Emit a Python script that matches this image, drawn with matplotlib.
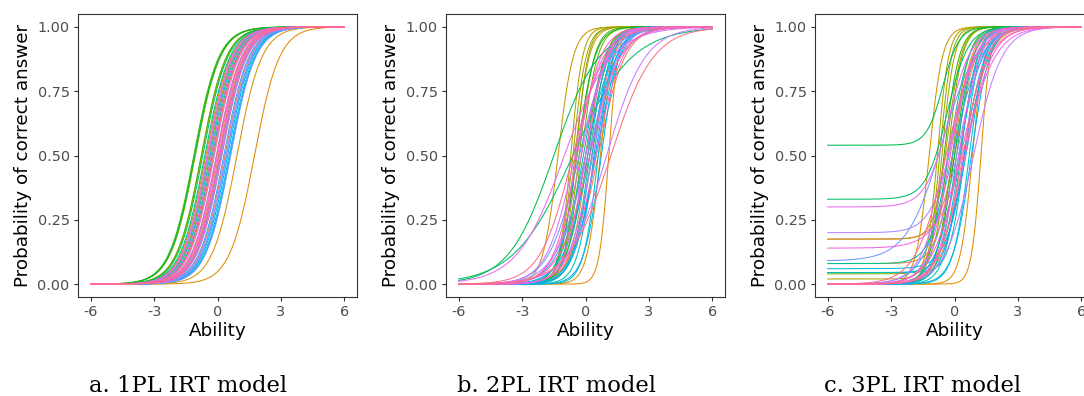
import numpy as np
import matplotlib
matplotlib.use("Agg")
import matplotlib.pyplot as plt

# item parameters (40 items, coloured by item index)
b_1pl = [0.15, 0.35, 0.05, 1.75, 0.92, -0.30, -0.55, -0.20, -0.75, -0.40,
         -1.05, -0.77, -1.12, -1.08, -0.70, -0.45, -0.60, -0.25, -0.05, 0.10,
         -0.35, 0.20, 0.42, 0.55, 0.60, 0.48, 0.30, 0.62, 0.15, 0.40,
         0.10, -0.45, -0.30, -0.15, 0.00, -0.50, 0.20, -0.05, 0.10, -0.20]
a_1pl = 1.7

b_2pl = [0.30, 0.60, 0.10, 1.10, 0.70, -1.30, -0.50, -0.70, -0.60, -0.45,
         -0.20, -0.30, 0.00, -0.40, -1.50, -0.60, 0.10, 0.20, -0.10, 0.40,
         0.60, 0.30, 0.50, 0.75, 0.20, 0.45, 0.00, -0.30, 0.10, 0.35,
         1.00, -0.50, -1.00, -0.20, 0.00, 0.50, -0.40, 0.20, -0.60, 1.20]
a_2pl = [2.0, 1.6, 2.4, 4.5, 3.2, 2.8, 3.0, 3.6, 3.2, 3.5,
         2.6, 2.8, 2.2, 2.4, 0.94, 0.72, 2.0, 2.4, 1.9, 2.6,
         2.9, 2.2, 1.8, 2.4, 1.6, 2.0, 1.5, 1.4, 1.3, 1.7,
         1.1, 1.5, 0.9, 1.6, 2.0, 1.6, 1.8, 1.4, 1.3, 1.0]

b_3pl = [0.20, 0.50, 0.00, 1.25, 0.85, -1.20, -0.30, -0.80, -0.60, -0.70,
         -0.30, -0.10, -0.50, 0.00, -0.55, -0.35, 0.10, -0.20, 0.30, 0.50,
         0.30, 0.70, 0.60, 0.80, 0.20, 0.45, -0.10, -0.60, 0.10, 0.00,
         0.90, -0.30, -0.25, 0.60, 0.20, 0.50, -0.20, 0.30, -0.40, 0.40]
a_3pl = [2.2, 1.8, 2.4, 4.5, 3.5, 3.2, 3.0, 3.8, 3.4, 3.6,
         3.0, 2.6, 2.8, 2.3, 2.6, 2.0, 2.5, 2.2, 2.6, 2.8,
         2.4, 2.6, 2.0, 2.3, 1.8, 2.0, 1.5, 1.2, 1.6, 1.8,
         1.5, 1.6, 1.8, 1.4, 2.0, 1.6, 1.9, 1.5, 1.4, 1.8]
c_3pl = [0.175, 0.00, 0.08, 0.00, 0.00, 0.00, 0.175, 0.02, 0.00, 0.00,
         0.04, 0.00, 0.00, 0.00, 0.54, 0.33, 0.00, 0.08, 0.00, 0.045,
         0.045, 0.00, 0.06, 0.00, 0.00, 0.00, 0.00, 0.09, 0.00, 0.20,
         0.00, 0.00, 0.30, 0.14, 0.00, 0.00, 0.00, 0.00, 0.00, 0.00]

captions = ["a. 1PL IRT model", "b. 2PL IRT model", "c. 3PL IRT model"]
caption_x = [188, 556, 923]


def hue_pal(n, l=65, c=100):
    # ggplot2 default discrete palette (polar Luv -> sRGB)
    h = np.deg2rad(np.linspace(15, 375, n + 1)[:n])
    u, v = c * np.cos(h), c * np.sin(h)
    Xn, Yn, Zn = 95.047, 100.0, 108.883
    un = 4 * Xn / (Xn + 15 * Yn + 3 * Zn)
    vn = 9 * Yn / (Xn + 15 * Yn + 3 * Zn)
    Y = np.full(n, Yn * ((l + 16) / 116) ** 3)
    up = u / (13 * l) + un
    vp = v / (13 * l) + vn
    X = 9 * Y * up / (4 * vp)
    Z = Y * (12 - 3 * up - 20 * vp) / (4 * vp)
    xyz = np.vstack([X, Y, Z]) / 100
    m = np.array([[3.2404542, -1.5371385, -0.4985314],
                  [-0.9692660, 1.8760108, 0.0415560],
                  [0.0556434, -0.2040259, 1.0572252]])
    rgb = m @ xyz
    rgb = np.where(rgb > 0.0031308, 1.055 * np.clip(rgb, 0, None) ** (1 / 2.4) - 0.055, 12.92 * rgb)
    return np.clip(rgb.T, 0, 1)


theta = np.linspace(-6, 6, 400)
n = len(b_1pl)
cols = hue_pal(n)

curves = [
    [1 / (1 + np.exp(-a_1pl * (theta - b_1pl[i]))) for i in range(n)],
    [1 / (1 + np.exp(-a_2pl[i] * (theta - b_2pl[i]))) for i in range(n)],
    [c_3pl[i] + (1 - c_3pl[i]) / (1 + np.exp(-a_3pl[i] * (theta - b_3pl[i]))) for i in range(n)],
]

W, H = 1084, 396
fig = plt.figure(figsize=(W / 100, H / 100), dpi=100)
lefts = [78, 446, 815]

for k in range(3):
    ax = fig.add_axes([lefts[k] / W, (H - 297) / H, 279 / W, 283 / H])
    for i in range(n):
        ax.plot(theta, curves[k][i], color=cols[i], lw=0.75)
    ax.set_xlim(-6.6, 6.6)
    ax.set_ylim(-0.05, 1.05)
    ax.set_xticks([-6, -3, 0, 3, 6])
    ax.set_xticklabels(["-6", "-3", "0", "3", "6"])
    ax.set_yticks([0, 0.25, 0.5, 0.75, 1.0])
    ax.set_yticklabels(["0.00", "0.25", "0.50", "0.75", "1.00"])
    for s in ax.spines.values():
        s.set_color("#333333")
        s.set_linewidth(0.8)
    ax.tick_params(colors="#333333", labelcolor="#4D4D4D", labelsize=10.4,
                   length=3, width=0.8, pad=3)
    ax.set_xlabel("Ability", fontsize=13.2, labelpad=2)
    ax.set_ylabel("Probability of correct answer", fontsize=13.2, labelpad=4)
    fig.text(caption_x[k] / W, (H - 392) / H, captions[k], ha="center",
             va="baseline", family="DejaVu Serif", fontsize=16.3)

fig.savefig("out.png", dpi=100)
